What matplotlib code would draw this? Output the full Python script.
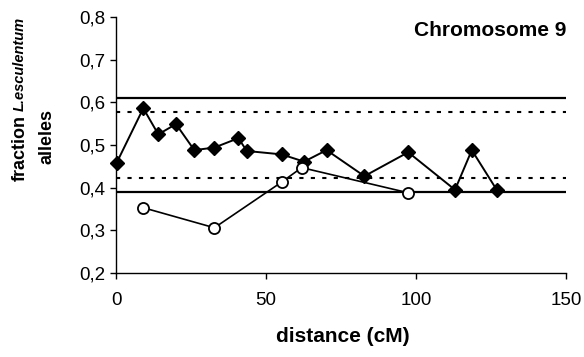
import matplotlib
matplotlib.use("Agg")
import matplotlib.pyplot as plt
from matplotlib import font_manager
from matplotlib.ticker import FixedLocator, FuncFormatter

# Data
dist_a = [0.2, 9.1, 14.1, 20.0, 26.1, 32.8, 40.8, 43.6, 55.2, 62.7, 70.2, 82.8, 97.4, 113.0, 118.6, 126.9]
frac_a = [0.458, 0.586, 0.525, 0.549, 0.488, 0.494, 0.516, 0.486, 0.478, 0.461, 0.488, 0.427, 0.483, 0.395, 0.488, 0.395]
dist_b = [9.1, 32.8, 55.2, 61.9, 97.4]
frac_b = [0.353, 0.306, 0.413, 0.447, 0.388]
solid_limits = [0.611, 0.391]
dotted_limits = [0.578, 0.422]
x_ticks = [0, 50, 100, 150]
y_ticks = [0.2, 0.3, 0.4, 0.5, 0.6, 0.7, 0.8]

plt.rcParams['font.family'] = ['Liberation Sans', 'DejaVu Sans']

names = {f.name for f in font_manager.fontManager.ttflist}
if 'Liberation Sans Narrow' in names:
    ital_family, ital_size = ['Liberation Sans Narrow', 'DejaVu Sans'], 12.5
else:
    ital_family, ital_size = ['Liberation Sans', 'DejaVu Sans'], 10.5

fig = plt.figure(figsize=(5.84, 3.57), dpi=100)
ax = fig.add_axes([116/584, 1-273/357, 450/584, 256/357])

for v in solid_limits:
    ax.plot([0, 150], [v, v], color='black', lw=1.6, solid_capstyle='butt')
for v in dotted_limits:
    ax.plot([0, 150], [v, v], color='black', lw=1.5, dashes=(2, 3.5))

ax.plot(dist_a, frac_a, color='black', lw=1.4, marker='D', ms=7.5,
        markerfacecolor='black', markeredgecolor='black', zorder=3, clip_on=False)
ax.plot(dist_b, frac_b, color='black', lw=1.2, marker='o', ms=8,
        markerfacecolor='white', markeredgecolor='black', markeredgewidth=1.3, zorder=3)

ax.set_xlim(0, 150)
ax.set_ylim(0.2, 0.8)
ax.xaxis.set_major_locator(FixedLocator(x_ticks))
ax.yaxis.set_major_locator(FixedLocator(y_ticks))
ax.yaxis.set_major_formatter(FuncFormatter(lambda v, p: f"{v:.1f}".replace('.', ',')))
ax.xaxis.set_major_formatter(FuncFormatter(lambda v, p: f"{v:.0f}"))
for s in ['top', 'right']:
    ax.spines[s].set_visible(False)
for s in ['left', 'bottom']:
    ax.spines[s].set_linewidth(1.0)
ax.tick_params(axis='both', direction='out', length=4.5, width=1.0, labelsize=13.5, pad=3)
ax.tick_params(axis='x', pad=9)
ax.margins(0)

ax.text(1.0, 0.985, 'Chromosome 9', transform=ax.transAxes, ha='right', va='top',
        fontsize=15, fontweight='bold')

fig.text(343/584, 1-337/357, 'distance (cM)', ha='center', va='center',
         fontsize=15, fontweight='bold')
fig.text(20/584, 1-148/357, 'fraction', rotation=90,
         ha='center', va='center', fontsize=13, fontweight='bold')
fig.text(20/584, 1-64/357, 'L.esculentum', rotation=90, family=ital_family,
         ha='center', va='center', fontsize=ital_size, fontweight='bold', fontstyle='italic')
fig.text(47/584, 1-136/357, 'alleles', rotation=90,
         ha='center', va='center', fontsize=13, fontweight='bold')

fig.savefig('out.png', dpi=100)
